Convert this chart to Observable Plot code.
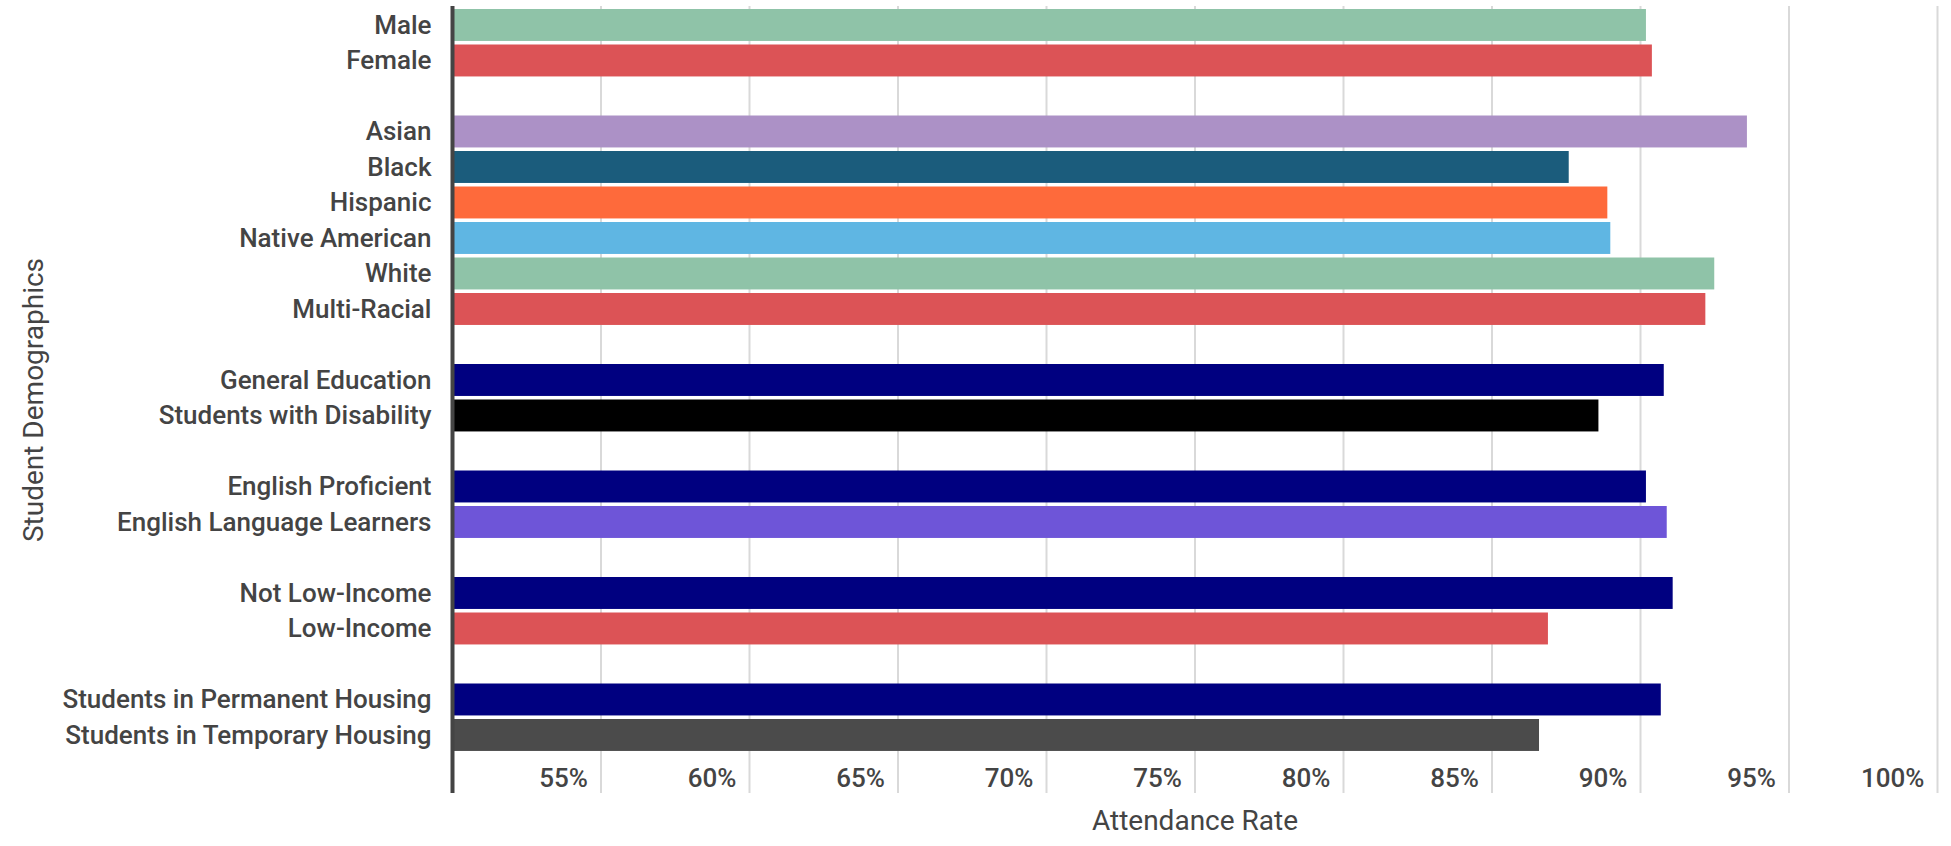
<!DOCTYPE html>
<html>
<head>
<meta charset="utf-8">
<script src="https://cdn.jsdelivr.net/npm/d3@7"></script>
<script src="https://cdn.jsdelivr.net/npm/@observablehq/plot@0.6"></script>
<style>
  html, body { margin: 0; padding: 0; background: #fff; }
  #chart svg { display: block; }
</style>
</head>
<body>
<div id="chart"></div>
<script>
// Student groups, top to bottom
const categories = [
  "Male", "Female",
  "Asian", "Black", "Hispanic", "Native American", "White", "Multi-Racial",
  "General Education", "Students with Disability",
  "English Proficient", "English Language Learners",
  "Not Low-Income", "Low-Income",
  "Students in Permanent Housing", "Students in Temporary Housing"
];

// Attendance rate (%) per group
const rates = [
  90.2, 90.4,
  93.6, 87.6, 88.9, 89.0, 92.5, 92.2,
  90.8, 88.6,
  90.2, 90.9,
  91.1, 86.9,
  90.7, 86.6
];

// Bar colour per group
const barColors = [
  "#8fc3a8", "#dc5356",
  "#ac91c6", "#1b5c7c", "#fe6a3b", "#5fb6e3", "#8fc3a8", "#dc5356",
  "#000080", "#000000",
  "#000080", "#6e55d8",
  "#000080", "#dc5356",
  "#000080", "#4b4b4b"
];

// How many consecutive groups belong together (a blank row separates each block)
const blockSizes = [2, 6, 2, 2, 2, 2];

// Horizontal axis
const xDomain = [50, 100];
const xTicks = [55, 60, 65, 70, 75, 80, 85, 90, 95, 100];

// Row order with spacer rows between blocks
const rows = [];
let k = 0;
blockSizes.forEach((n, b) => {
  for (let i = 0; i < n; i++) rows.push(categories[k++]);
  if (b < blockSizes.length - 1) rows.push(`__gap${b}`);
});

const data = categories.map((c, i) => ({category: c, rate: rates[i], color: barColors[i]}));

const font = "Roboto, 'Noto Sans', sans-serif";
const textColor = "#444444";

const chart = Plot.plot({
  width: 1951,
  height: 846,
  marginLeft: 452,
  marginRight: 14,
  marginTop: 6,
  marginBottom: 53,
  style: {fontFamily: font, background: "#fff"},
  x: {domain: xDomain, axis: null},
  y: {domain: rows, range: [5.45, 754.5], padding: 0.1, round: false, axis: null},
  marks: [
    // vertical grid
    Plot.ruleX(xTicks, {stroke: "#d9d9d9", strokeWidth: 2}),
    // bars
    Plot.barX(data, {
      x1: xDomain[0],
      x2: "rate",
      y: "category",
      fill: d => d.color
    }),
    // left axis line
    Plot.ruleX([xDomain[0]], {stroke: "#444444", strokeWidth: 4}),
    // category labels
    Plot.axisY({
      tickSize: 0,
      tickPadding: 21,
      fontSize: 26,
      fontWeight: 500,
      color: textColor,
      label: null,
      tickFormat: d => d.startsWith("__gap") ? "" : d
    }),
    // percentage tick labels, placed inside the frame left of each grid line
    Plot.text(xTicks, {
      x: d => d,
      frameAnchor: "bottom",
      text: d => `${d}%`,
      textAnchor: "end",
      lineAnchor: "middle",
      dx: -13,
      dy: -15,
      fontSize: 26,
      fontWeight: 500,
      fill: textColor
    }),
    // axis titles
    Plot.text(["Attendance Rate"], {
      frameAnchor: "bottom",
      text: d => d,
      textAnchor: "middle",
      lineAnchor: "middle",
      dy: 28,
      fontSize: 28,
      fill: textColor
    }),
    Plot.text(["Student Demographics"], {
      frameAnchor: "left",
      text: d => d,
      textAnchor: "middle",
      lineAnchor: "middle",
      rotate: -90,
      dx: -418,
      fontSize: 28,
      fill: textColor
    })
  ]
});

document.getElementById("chart").appendChild(chart);
</script>
</body>
</html>
